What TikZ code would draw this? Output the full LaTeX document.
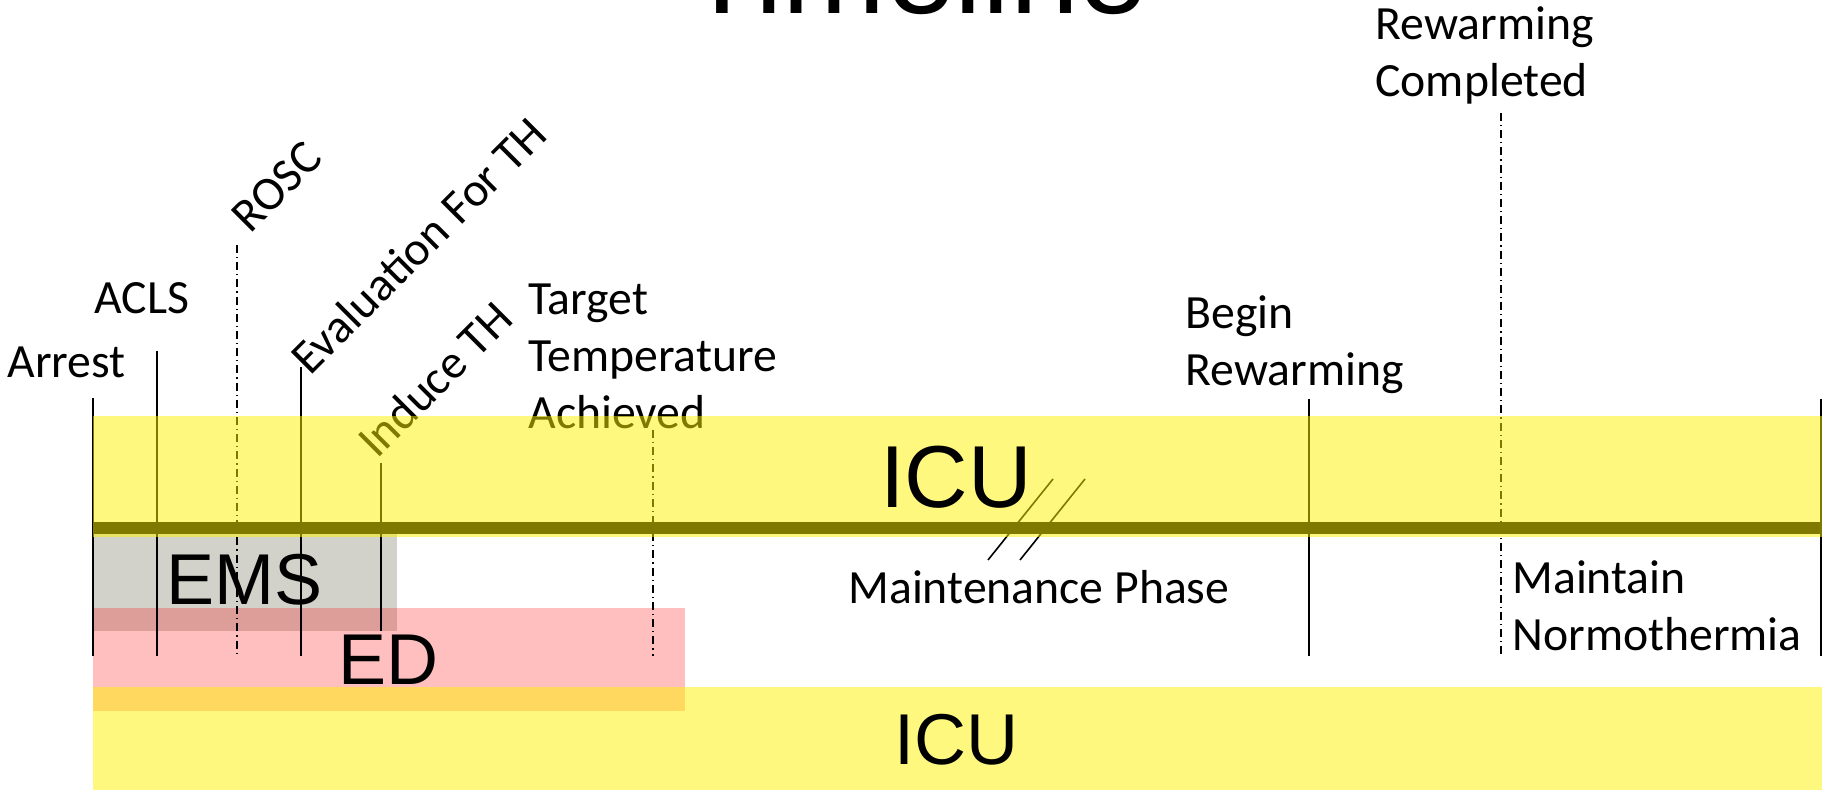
\documentclass[tikz,border=0pt]{standalone}
\usepackage{fontspec}
\setmainfont{Carlito}
\newfontfamily\arialf{Liberation Sans}
\definecolor{emsgray}{RGB}{210,210,203}
\begin{document}
\begin{tikzpicture}[x=0.5pt,y=-0.5pt,
  lbl/.style={font=\fontsize{23.85}{28.5}\selectfont, inner sep=0pt, align=left, anchor=base west},
  rlbl/.style={font=\fontsize{23.85}{28.5}\selectfont, inner sep=0pt, anchor=base west, rotate=45},
  big/.style={font=\arialf\fontsize{36}{40}\selectfont, inner sep=0pt, anchor=base west},
  evline/.style={line width=0.9pt},
  evdash/.style={line width=0.9pt, dash pattern=on 4pt off 2pt on 0.6pt off 2pt},
  yband/.style={fill=yellow, fill opacity=0.5, draw=none},
  brk/.style={line width=0.8pt}
]
\useasboundingbox (0,0) rectangle (1828,790);

% title (cut off by the top edge)
\node[font=\arialf\fontsize{62}{70}\selectfont, anchor=base, inner sep=0pt] (title) at (916,13.5) {Timeline};

% EMS and ED boxes
\fill[emsgray] (93,528) rectangle (397,631);
\fill[red, fill opacity=0.25] (93,608) rectangle (685,711);

% event lines
\coordinate (arrT) at (93,398);   \coordinate (arrB) at (93,656);
\coordinate (aclT) at (157,351);  \coordinate (aclB) at (157,656);
\coordinate (rosT) at (237,245);  \coordinate (rosB) at (237,656);
\coordinate (evaT) at (301,367);  \coordinate (evaB) at (301,656);
\coordinate (indT) at (381,463);  \coordinate (indB) at (381,631);
\coordinate (tarT) at (653,430);  \coordinate (tarB) at (653,656);
\coordinate (begT) at (1309,399); \coordinate (begB) at (1309,656);
\coordinate (rwcT) at (1501,113); \coordinate (rwcB) at (1501,656);
\coordinate (endT) at (1821,399); \coordinate (endB) at (1821,656);

\draw[evline] (arrT) -- (arrB);
\draw[evline] (aclT) -- (aclB);
\draw[evdash] (rosT) -- (rosB);
\draw[evline] (evaT) -- (evaB);
\draw[evline] (indT) -- (indB);
\draw[evdash] (tarT) -- (tarB);
\draw[evline] (begT) -- (begB);
\draw[evdash] (rwcT) -- (rwcB);
\draw[evline] (endT) -- (endB);

% main time axis
\coordinate (axL) at (93,528);
\coordinate (axR) at (1822,528);
\draw[line width=6pt] (axL) -- (axR);

% break marks
\coordinate (b1a) at (988,560);  \coordinate (b1b) at (1053,479);
\coordinate (b2a) at (1020,560); \coordinate (b2b) at (1085,479);
\draw[brk] (b1a) -- (b1b);
\draw[brk] (b2a) -- (b2b);

% labels partly under the yellow band
\node[rlbl] (induce) at (377,460) {Induce TH};
\node[lbl] (target) at (528,429) {Target\\Temperature\\Achieved};

% ICU bands
\fill[yband] (93,416) rectangle (1822,537);
\fill[yband] (93,687) rectangle (1822,790);

% event labels
\node[lbl] (arrest) at (7,378) {Arrest};
\node[lbl] (acls) at (94,314) {ACLS};
\node[rlbl] (rosc) at (250,235) {ROSC};
\node[rlbl] (eval) at (310,377) {Evaluation For TH};
\node[lbl] (begin) at (1185,386) {Begin\\Rewarming};
\node[lbl] (rwc) at (1375,97) {Rewarming\\Completed};
\node[lbl] (maint) at (848,604) {Maintenance Phase};
\node[lbl] (normo) at (1512,651) {Maintain\\Normothermia};

% location labels
\node[big, font=\arialf\fontsize{44}{48}\selectfont] (icu1) at (880,508) {ICU};
\node[big] (ems) at (166,605) {EMS};
\node[big] (ed) at (338,685) {ED};
\node[big] (icu2) at (894,765) {ICU};
\end{tikzpicture}
\end{document}
